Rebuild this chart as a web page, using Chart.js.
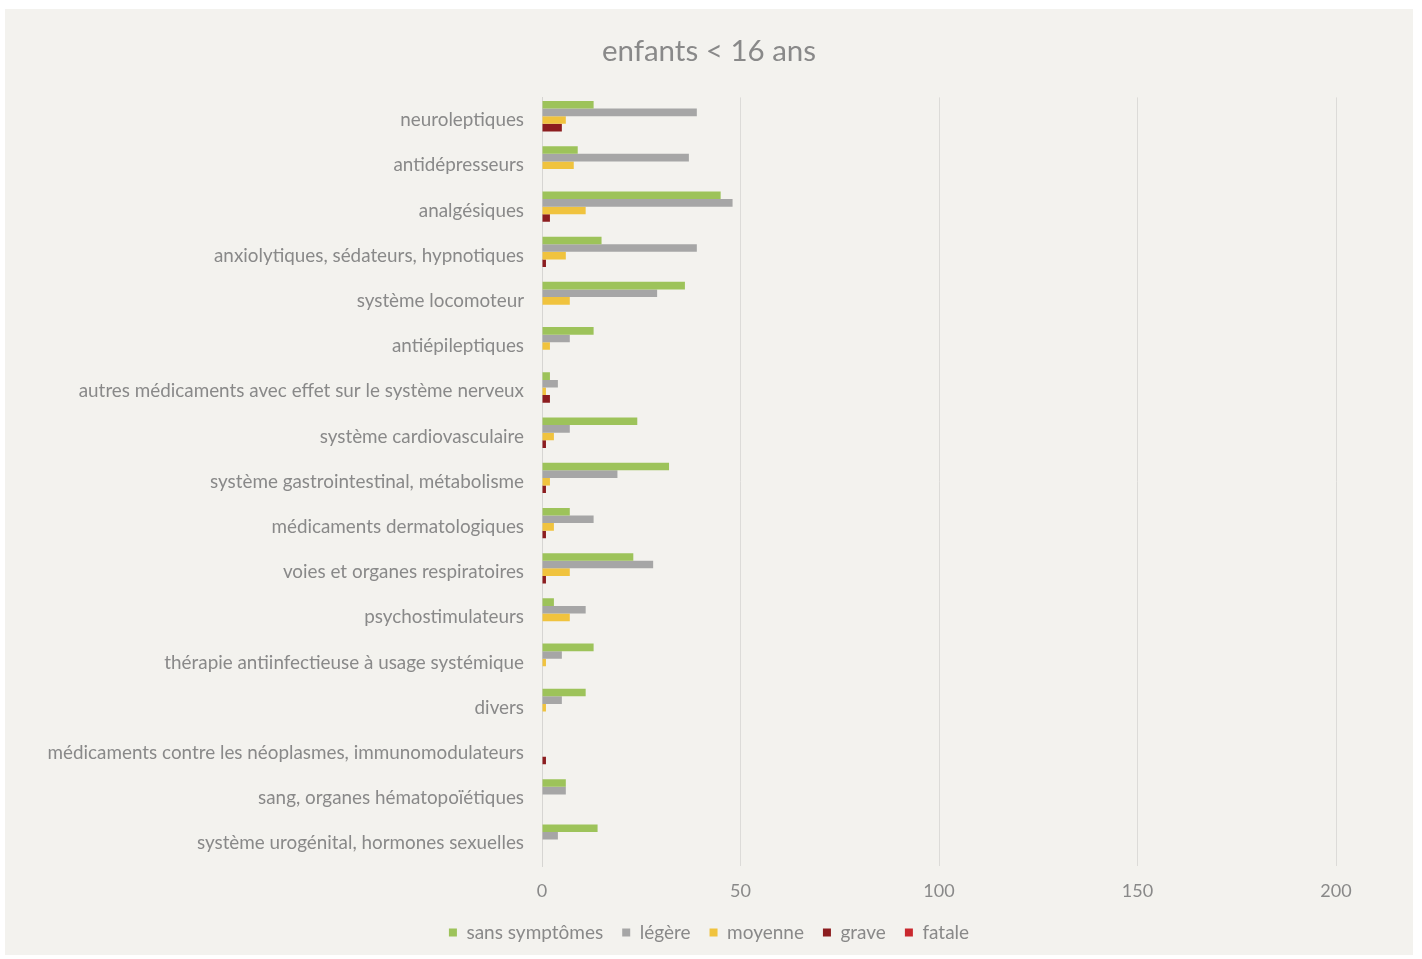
<!DOCTYPE html>
<html lang="fr">
<head>
<meta charset="utf-8">
<title>enfants &lt; 16 ans</title>
<script src="https://cdn.jsdelivr.net/npm/chart.js@4/dist/chart.umd.min.js"></script>
<style>
  html, body { margin: 0; padding: 0; background: #ffffff; }
  #panel {
    position: absolute; left: 5px; top: 9px;
    width: 1408px; height: 946px;
    background: #f3f2ee;
  }
  #chart-enfants { display: block; }
</style>
</head>
<body>
<div id="panel">
  <canvas id="chart-enfants" width="1408" height="946"></canvas>
</div>
<script>
'use strict';

/* ─── données ─── */
var categories = [
  'neuroleptiques',
  'antidépresseurs',
  'analgésiques',
  'anxiolytiques, sédateurs, hypnotiques',
  'système locomoteur',
  'antiépileptiques',
  'autres médicaments avec effet sur le système nerveux',
  'système cardiovasculaire',
  'système gastrointestinal, métabolisme',
  'médicaments dermatologiques',
  'voies et organes respiratoires',
  'psychostimulateurs',
  'thérapie antiinfectieuse à usage systémique',
  'divers',
  'médicaments contre les néoplasmes, immunomodulateurs',
  'sang, organes hématopoïétiques',
  'système urogénital, hormones sexuelles'
];

var sansSymptomes = [13, 9, 45, 15, 36, 13, 2, 24, 32, 7, 23, 3, 13, 11, 0, 6, 14];
var legere        = [39, 37, 48, 39, 29, 7, 4, 7, 19, 13, 28, 11, 5, 5, 0, 6, 4];
var moyenne       = [6, 8, 11, 6, 7, 2, 1, 3, 2, 3, 7, 7, 1, 1, 0, 0, 0];
var grave         = [5, 0, 2, 1, 0, 0, 2, 1, 1, 1, 1, 0, 0, 0, 1, 0, 0];
var fatale        = [0, 0, 0, 0, 0, 0, 0, 0, 0, 0, 0, 0, 0, 0, 0, 0, 0];

var xTicks = [0, 50, 100, 150, 200];

var TEXT_COLOR = '#898989';
var FONT = 'Lato, "Open Sans", sans-serif';

function serie(label, data, color) {
  return {
    label: label,
    data: data,
    backgroundColor: color,
    borderWidth: 0,
    categoryPercentage: 0.84,
    barPercentage: 1.0
  };
}

var canvas = document.getElementById('chart-enfants');

new Chart(canvas, {
  type: 'bar',
  data: {
    labels: categories,
    datasets: [
      serie('sans symptômes', sansSymptomes, '#9dc35a'),
      serie('légère', legere, '#a6a6a6'),
      serie('moyenne', moyenne, '#f0c33e'),
      serie('grave', grave, '#8c1d1f'),
      serie('fatale', fatale, '#c9282e')
    ]
  },
  options: {
    indexAxis: 'y',
    responsive: false,
    animation: false,
    // marges égales à gauche et à droite : titre et légende restent centrés
    layout: { padding: { left: 20, right: 20, top: 0, bottom: 3 } },
    plugins: {
      title: {
        display: true,
        text: 'enfants < 16 ans',
        color: TEXT_COLOR,
        font: { family: FONT, size: 29.5, weight: 'normal' },
        padding: { top: 25, bottom: 28 }
      },
      legend: {
        position: 'bottom',
        labels: {
          color: TEXT_COLOR,
          font: { family: FONT, size: 19 },
          boxWidth: 8,
          boxHeight: 8,
          padding: 19
        }
      },
      tooltip: { enabled: false }
    },
    scales: {
      x: {
        min: 0,
        max: 200,
        afterBuildTicks: function (scale) {
          scale.ticks = xTicks.map(function (v) { return { value: v }; });
        },
        afterFit: function (scale) { scale.height = 38; },
        grid: { color: '#dcdbd8', drawTicks: false },
        border: { display: false },
        ticks: {
          color: TEXT_COLOR,
          font: { family: FONT, size: 18 },
          padding: 14
        }
      },
      y: {
        afterFit: function (scale) { scale.width = 517; },
        grid: { display: false },
        border: { display: true, color: '#d6d5d2' },
        ticks: {
          color: TEXT_COLOR,
          font: { family: FONT, size: 18.85 },
          padding: 10,
          autoSkip: false
        }
      },
      // axe vide à droite : réserve la marge après la graduation 200
      marge: {
        type: 'linear',
        position: 'right',
        afterFit: function (scale) { scale.width = 57; },
        grid: { display: false },
        border: { display: false },
        ticks: { display: false }
      }
    }
  }
});
</script>
</body>
</html>
